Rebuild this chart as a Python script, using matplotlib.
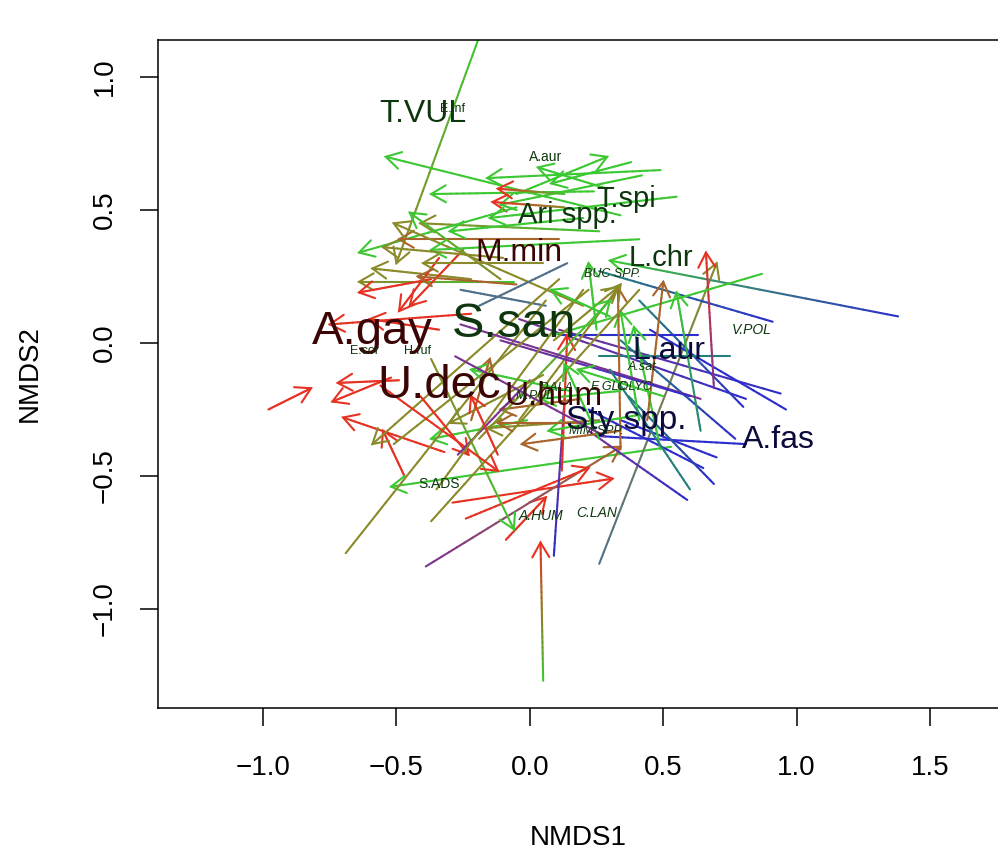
import numpy as np
import matplotlib
matplotlib.use('Agg')
import matplotlib.pyplot as plt
from matplotlib.collections import LineCollection
from matplotlib.colors import to_rgb

plt.rcParams['font.family'] = ['Liberation Sans', 'DejaVu Sans']

# colours of the arrow ends
G, OL, BR, RD = '#3cc832', '#8a8a2a', '#a8642a', '#e63222'
PU, BL, TE, SL = '#7b3391', '#2d2dcc', '#24807a', '#50708a'

# site trajectories (NMDS scores at start and end)
x_start = [-0.19, 0.34, 0.49, 0.29, -0.05, 0.24, 0.42, 0.13, 0.13, 0.26,
           -0.05, 0.11, -0.22, -0.06, -0.37, -0.34, -0.25, -0.11, 0.20, 0.14,
           -0.26, 0.41, -0.22, -0.34, -0.98, -0.49, -0.52, -0.32, -0.47, 0.11,
           -0.01, 0.53, -0.69, -0.29, -0.09, -0.39, -0.24, -0.37, 0.05, 0.09,
           0.26, 1.38, 0.91, 0.94, 0.81, 0.80, 0.96, 0.77, 0.81, 0.70,
           0.65, 0.69, 0.59, 0.63, 0.75, 0.69, 0.87, 0.64, 0.41, 0.49,
           0.34, 0.44, 0.12, 0.26, 0.34, 0.41, 0.19, 0.34, 0.09, -0.04,
           -0.19, -0.26, -0.11, -0.51, -0.37, -0.56, -0.41, -0.22, -0.27, 0.26,
           0.55, 0.38, 0.05, 0.20, -0.10, -0.05, 0.15, 0.05, 0.20, 0.25,
           -0.35, -0.28, 0.60, 0.50, -0.12, 0.30]
y_start = [1.15, 0.48, 0.65, 0.58, 0.56, 0.57, 0.63, 0.56, 0.51, 0.42,
           0.51, 0.39, 0.24, 0.23, 0.24, 0.32, 0.35, 0.24, 0.14, 0.30,
           0.20, 0.39, 0.11, 0.05, -0.25, -0.14, -0.13, -0.41, -0.50, 0.24,
           -0.29, -0.39, -0.79, -0.60, -0.74, -0.84, -0.66, -0.06, -1.27, -0.80,
           -0.83, 0.10, 0.08, -0.19, -0.21, -0.24, -0.25, -0.36, -0.38, -0.43,
           -0.47, -0.53, -0.59, 0.03, -0.05, -0.17, 0.26, -0.33, -0.29, -0.40,
           -0.40, -0.29, -0.48, -0.29, -0.33, -0.27, -0.21, -0.18, 0.01, -0.29,
           -0.36, 0.07, 0.01, -0.38, -0.67, -0.16, -0.20, -0.29, -0.42, -0.36,
           0.55, 0.68, 0.30, 0.47, 0.32, 0.22, -0.18, -0.12, -0.30, 0.05,
           -0.55, -0.05, -0.55, -0.20, -0.42, 0.10]
x_end = [-0.50, -0.54, -0.16, 0.03, 0.29, -0.37, -0.11, -0.12, -0.14, -0.41,
         -0.64, -0.49, -0.59, -0.64, -0.64, -0.49, -0.45, -0.45, -0.51, -0.19,
         0.06, -0.37, -0.75, -0.60, -0.82, -0.72, -0.74, -0.70, -0.55, -0.59,
         -0.37, -0.52, 0.06, 0.31, 0.06, 0.34, 0.22, -0.06, 0.04, 0.13,
         0.70, 0.30, 0.26, 0.11, -0.04, 0.41, 0.45, 0.34, 0.26, 0.34,
         0.22, 0.37, 0.22, 0.11, 0.26, 0.66, 0.09, 0.55, 0.34, 0.39,
         0.33, 0.50, 0.14, -0.16, -0.03, 0.07, -0.11, 0.04, 0.33, 0.34,
         0.30, 0.64, 0.60, 0.22, 0.41, -0.12, -0.23, -0.15, 0.00, 0.13,
         -0.15, 0.08, -0.40, -0.30, -0.55, -0.42, -0.22, -0.30, -0.12, 0.22,
         0.20, 0.28, 0.30, 0.18, -0.22, 0.08]
y_end = [0.30, 0.70, 0.62, 0.66, 0.70, 0.56, 0.52, 0.58, 0.53, 0.45,
         0.34, 0.39, 0.28, 0.23, 0.19, 0.12, 0.14, 0.49, 0.45, 0.14,
         0.14, 0.35, 0.07, 0.09, -0.17, -0.15, -0.22, -0.28, -0.33, -0.38,
         -0.36, -0.54, 0.16, -0.51, -0.58, -0.39, -0.47, -0.70, -0.75, -0.21,
         0.30, 0.31, 0.27, 0.05, 0.09, 0.16, 0.05, 0.01, -0.35, -0.29,
         -0.25, -0.20, -0.33, 0.03, -0.05, 0.34, 0.03, 0.19, 0.12, 0.06,
         0.21, 0.23, 0.03, -0.32, -0.38, -0.33, -0.25, -0.21, 0.21, 0.22,
         0.16, -0.21, -0.20, 0.20, 0.20, -0.48, -0.42, -0.06, -0.14, -0.08,
         0.47, 0.60, 0.30, 0.42, 0.36, 0.25, -0.10, -0.30, -0.30, 0.30,
         0.20, -0.35, -0.10, -0.10, -0.20, 0.20]
col_start = [G, G, G, G, G, G, G, G, OL, G,
             G, BR, OL, G, RD, RD, RD, OL, OL, SL,
             SL, G, RD, RD, RD, RD, RD, RD, RD, OL,
             G, G, OL, RD, RD, PU, RD, OL, G, BL,
             SL, BL, BL, BL, BL, BL, BL, BL, BL, BL,
             BL, BL, BL, BL, TE, PU, G, TE, G, G,
             BR, BR, RD, OL, BR, G, BR, G, OL, OL,
             OL, PU, PU, OL, OL, RD, RD, BR, PU, G,
             G, G, OL, G, OL, BR, G, OL, BR, G,
             OL, PU, TE, G, RD, G]
col_end = [OL, G, G, G, G, G, G, RD, RD, OL,
           G, BR, OL, OL, RD, RD, RD, G, OL, SL,
           SL, G, RD, RD, RD, RD, RD, RD, RD, OL,
           G, G, OL, RD, RD, BR, RD, G, RD, PU,
           OL, G, TE, PU, PU, TE, BL, TE, BL, BL,
           BL, TE, PU, BL, TE, RD, G, G, G, G,
           BR, BR, RD, OL, BR, G, BR, G, OL, OL,
           G, PU, BL, OL, OL, RD, RD, BR, PU, G,
           G, G, OL, G, OL, BR, G, OL, BR, G,
           OL, PU, TE, G, RD, G]
has_head = [1, 1, 1, 1, 1, 1, 1, 1, 1, 1,
            1, 1, 1, 1, 1, 1, 1, 1, 1, 0,
            0, 1, 1, 1, 1, 1, 1, 1, 1, 1,
            1, 1, 0, 1, 1, 1, 1, 1, 1, 0,
            1, 1, 0, 0, 0, 0, 0, 0, 0, 0,
            0, 0, 0, 0, 0, 1, 0, 1, 1, 1,
            1, 1, 1, 1, 1, 1, 1, 1, 1, 1,
            1, 0, 0, 0, 0, 1, 1, 1, 0, 1,
            1, 1, 1, 1, 1, 1, 1, 1, 1, 1,
            0, 0, 0, 1, 1, 1]

# species scores
sp_name = ['T.VUL', 'E.inf', 'A.aur', 'T.spi', 'Ari spp.', 'M.min', 'L.chr',
           'BUC SPP.', 'S.san', 'A.gay', 'E.cor', 'H.ruf', 'U.dec', 'U.hum',
           'M.PUL', 'P.ALA', 'E.GLO', 'C.LYC', 'A.sat', 'L.aur', 'V.POL',
           'Sty spp.', 'MIM SPP.', 'A.fas', 'S.ADS', 'A.HUM', 'C.LAN']
sp_x = [-0.40, -0.29, 0.06, 0.36, 0.14, -0.04, 0.49,
        0.31, -0.06, -0.59, -0.62, -0.42, -0.34, 0.09,
        0.02, 0.10, 0.30, 0.39, 0.42, 0.52, 0.83,
        0.36, 0.25, 0.93, -0.34, 0.04, 0.25]
sp_y = [0.86, 0.88, 0.70, 0.54, 0.48, 0.34, 0.32,
        0.26, 0.07, 0.04, -0.03, -0.03, -0.16, -0.20,
        -0.20, -0.17, -0.165, -0.165, -0.09, -0.03, 0.05,
        -0.29, -0.33, -0.365, -0.53, -0.65, -0.64]
sp_group = ['g', 'g', 'g', 'g', 'g', 'r', 'g',
            'g', 'g', 'r', 'g', 'g', 'r', 'r',
            'g', 'g', 'g', 'g', 'g', 'b', 'g',
            'b', 'g', 'b', 'g', 'g', 'g']
sp_size = [23, 9, 10, 21, 21, 23, 21,
           9, 35, 34, 9, 9, 34, 24,
           9, 9, 9, 9, 9, 23, 10,
           24, 9, 23, 10, 10, 10]
sp_italic = [0, 0, 0, 0, 0, 0, 0,
             1, 0, 0, 0, 0, 0, 0,
             1, 1, 1, 1, 1, 0, 1,
             0, 1, 0, 0, 1, 1]
text_col = {'g': '#0e360e', 'r': '#3b0505', 'b': '#0b0b3d'}

fig = plt.figure(figsize=(9.98, 8.57), dpi=100)
ax = fig.add_axes([158 / 998, 149 / 857, 842 / 998, 668 / 857])
ax.set_xlim(-1.3935, 1.762)
ax.set_ylim(-1.372, 1.139)


def draw_arrow(xa, ya, xb, yb, ca, cb, head):
    t = np.linspace(0, 1, 26)
    pts = np.column_stack([xa + (xb - xa) * t, ya + (yb - ya) * t]).reshape(-1, 1, 2)
    segs = np.concatenate([pts[:-1], pts[1:]], axis=1)
    c0, c1 = np.array(to_rgb(ca)), np.array(to_rgb(cb))
    tm = (t[:-1] + t[1:]) / 2
    cols = c0 + (c1 - c0) * tm[:, None]
    ax.add_collection(LineCollection(segs, colors=cols, linewidths=1.5,
                                     capstyle='round'))
    if head:
        p0 = ax.transData.transform((xa, ya))
        p1 = ax.transData.transform((xb, yb))
        d = (p0 - p1) / np.hypot(*(p0 - p1))
        pts_head = []
        for a in (np.radians(30), -np.radians(30)):
            r = np.array([[np.cos(a), -np.sin(a)], [np.sin(a), np.cos(a)]])
            pts_head.append(p1 + 17 * r @ d)
        hp = ax.transData.inverted().transform([pts_head[0], p1, pts_head[1]])
        ax.plot(hp[:, 0], hp[:, 1], color=cb, lw=1.5, solid_capstyle='round',
                solid_joinstyle='miter')


for i in range(len(x_start)):
    draw_arrow(x_start[i], y_start[i], x_end[i], y_end[i],
               col_start[i], col_end[i], has_head[i])

for i in range(len(sp_name)):
    ax.text(sp_x[i], sp_y[i], sp_name[i], fontsize=sp_size[i],
            color=text_col[sp_group[i]], ha='center', va='center',
            style='italic' if sp_italic[i] else 'normal')

ax.set_xticks([-1.0, -0.5, 0.0, 0.5, 1.0, 1.5])
ax.set_yticks([-1.0, -0.5, 0.0, 0.5, 1.0])
ax.tick_params(axis='both', direction='out', length=13, width=1.1,
               labelsize=20)
ax.tick_params(axis='x', pad=21)
ax.tick_params(axis='y', pad=16, labelrotation=90)
for lab in ax.get_yticklabels():
    lab.set_va('center')
for s in ax.spines.values():
    s.set_linewidth(1.1)

fig.text(578 / 998, 1 - 838 / 857, 'NMDS1', fontsize=20, ha='center', va='center')
fig.text(30 / 998, 1 - 374 / 857, 'NMDS2', fontsize=20, ha='center', va='center',
         rotation=90)

fig.savefig('out.png', dpi=100)
